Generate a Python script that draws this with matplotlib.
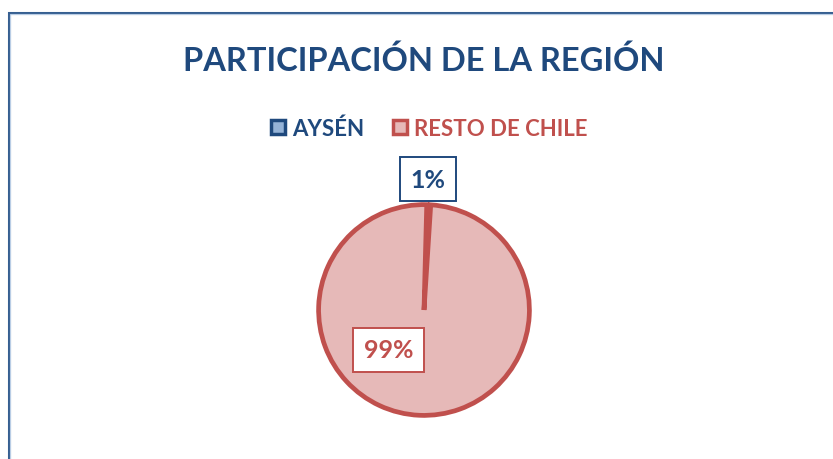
import matplotlib.pyplot as plt
from matplotlib.patches import Rectangle

# data
regions = ["AYSÉN", "RESTO DE CHILE"]
shares = [0.6, 99.4]
fills = ["#95B3D7", "#E6B9B8"]
edges = ["#1F497D", "#C0504D"]
title = "PARTICIPACIÓN DE LA REGIÓN"

plt.rcParams['font.family'] = ['Lato', 'DejaVu Sans']

W, H = 833, 460
fig = plt.figure(figsize=(W / 100, H / 100), dpi=100)

# chart frame (runs off the right and bottom edges)
fig.patches.append(Rectangle((8.5 / W, -0.1), 1.2, 1 - 13.5 / H + 0.1,
                             transform=fig.transFigure, fill=False,
                             ec="#365F91", lw=2.2, zorder=0))
fig.patches.append(Rectangle((10.3 / W, -0.1), 1.2, 1 - 15.3 / H + 0.1,
                             transform=fig.transFigure, fill=False,
                             ec="#B9CDE5", lw=0.8, zorder=0))

fig.text(424 / W, 1 - 61 / H, title, ha="center", va="center",
         fontsize=23.5, fontweight="bold", color="#1F497D")

cx, cy, r = 424, 311, 107
lim = 1.15
side = 2 * r * lim
ax = fig.add_axes([(cx - side / 2) / W, (H - cy - side / 2) / H, side / W, side / H])

wedges, texts, pcts = ax.pie(shares, colors=fills, startangle=88.5, counterclock=False,
                             radius=0.985, autopct=lambda p: f"{p:.0f}%",
                             pctdistance=0.5, labels=None,
                             wedgeprops=dict(linewidth=3.4))
ax.set_xlim(-lim, lim)
ax.set_ylim(-lim, lim)
ax.set_aspect("equal")
ax.axis("off")

for w, ec in zip(wedges, edges):
    w.set_edgecolor(ec)
wedges[0].set_linewidth(1.2)

label_pos = [(0.04, 1.22), (-0.33, -0.37)]
for t, ec, pos in zip(pcts, edges, label_pos):
    t.set_position(pos)
    t.set_color(ec)
    t.set_fontsize(18)
    t.set_fontweight("bold")
    t.set_ha("center")
    t.set_va("center")
    t.set_bbox(dict(boxstyle="square,pad=0.42", fc="white", ec=ec, lw=1.4))

leg = fig.legend(wedges, regions, loc="center", bbox_to_anchor=(429 / W, 1 - 129 / H),
                 ncol=2, frameon=False, handlelength=0.65, handleheight=0.65,
                 handletextpad=0.3, columnspacing=1.3,
                 prop=dict(size=16, weight="bold"))
for txt, ec in zip(leg.get_texts(), edges):
    txt.set_color(ec)
for h, ec in zip(leg.legend_handles, edges):
    h.set_linewidth(2.5)
    h.set_edgecolor(ec)

fig.savefig("out.png", dpi=100)
